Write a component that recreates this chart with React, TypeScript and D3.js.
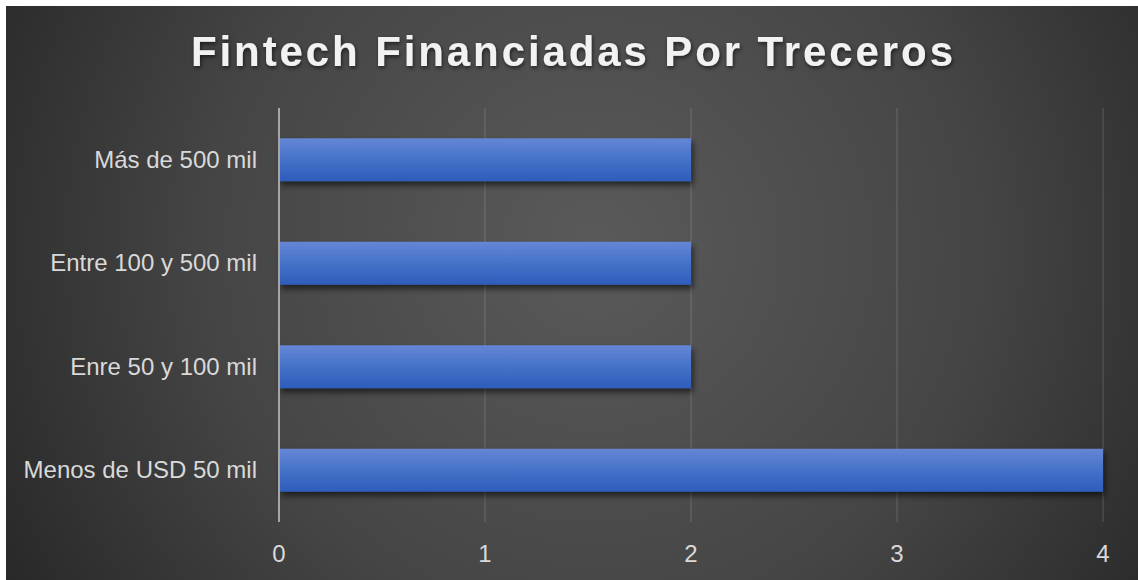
import React from "react";
import * as d3 from "d3";

const categories = ["Más de 500 mil", "Entre 100 y 500 mil", "Enre 50 y 100 mil", "Menos de USD 50 mil"];
const values = [2, 2, 2, 4];
const xTicks = [0, 1, 2, 3, 4];
const title = "Fintech Financiadas Por Treceros";

const W = 1132;
const H = 574;
const OX = 6;
const OY = 6;

export default function App() {
  const x = d3.scaleLinear().domain([0, 4]).range([279 - OX, 1103 - OX]);
  const y = d3.scaleBand<string>().domain(categories).range([108 - OY, 522 - OY]).paddingInner(0.585).paddingOuter(0.2925);
  const font = "'Liberation Sans', Arial, sans-serif";
  return (
    <svg width={W} height={H} style={{ position: "absolute", left: OX, top: OY, display: "block" }}>
      <defs>
        <radialGradient id="bg" cx="0.52" cy="0.42" r="0.62" gradientUnits="objectBoundingBox" gradientTransform="translate(0.52,0.42) scale(1,1.95) translate(-0.52,-0.42)">
          <stop offset="0" stopColor="#5a5a5a" />
          <stop offset="0.55" stopColor="#454545" />
          <stop offset="1" stopColor="#262626" />
        </radialGradient>
        <linearGradient id="bar" x1="0" y1="0" x2="0" y2="1">
          <stop offset="0" stopColor="#6686d5" />
          <stop offset="0.5" stopColor="#4472c8" />
          <stop offset="1" stopColor="#2e5cba" />
        </linearGradient>
        <filter id="shadow" x="-5%" y="-30%" width="115%" height="190%">
          <feGaussianBlur in="SourceAlpha" stdDeviation="3" />
          <feOffset dx="2" dy="4" result="b" />
          <feComponentTransfer><feFuncA type="linear" slope="0.6" /></feComponentTransfer>
          <feMerge><feMergeNode /><feMergeNode in="SourceGraphic" /></feMerge>
        </filter>
        <filter id="tshadow" x="-5%" y="-30%" width="110%" height="170%">
          <feGaussianBlur in="SourceAlpha" stdDeviation="2" />
          <feOffset dx="1" dy="2" />
          <feComponentTransfer><feFuncA type="linear" slope="0.6" /></feComponentTransfer>
          <feMerge><feMergeNode /><feMergeNode in="SourceGraphic" /></feMerge>
        </filter>
      </defs>
      <rect width={W} height={H} fill="url(#bg)" />
      <text x={572 - OX} y={66 - OY} textAnchor="middle" fontFamily={font} fontWeight="bold" fontSize={42} fill="#f2f2f2" textLength={762} lengthAdjust="spacing" filter="url(#tshadow)">{title}</text>
      {xTicks.slice(1).map(t => (
        <line key={t} x1={x(t)} x2={x(t)} y1={108 - OY} y2={522 - OY} stroke="#ffffff" strokeOpacity={0.12} strokeWidth={1.5} />
      ))}
      {categories.map((c, i) => (
        <rect key={c} x={x(0)} y={y(c)} width={x(values[i]) - x(0)} height={y.bandwidth()} fill="url(#bar)" filter="url(#shadow)" />
      ))}
      <line x1={x(0)} x2={x(0)} y1={108 - OY} y2={522 - OY} stroke="#a6a6a6" strokeWidth={2} />
      {categories.map(c => (
        <text key={c} x={257 - OX} y={(y(c) as number) + y.bandwidth() / 2 + 8} textAnchor="end" fontFamily={font} fontSize={24} fill="#d9d9d9">{c}</text>
      ))}
      {xTicks.map(t => (
        <text key={t} x={x(t)} y={562 - OY} textAnchor="middle" fontFamily={font} fontSize={24} fill="#d9d9d9">{t}</text>
      ))}
    </svg>
  );
}
